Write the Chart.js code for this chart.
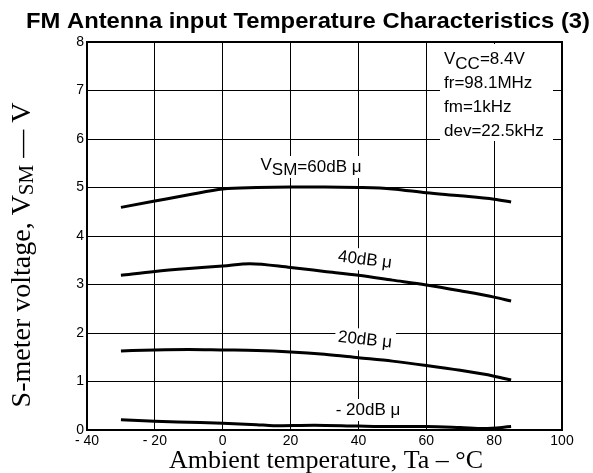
<!DOCTYPE html>
<html lang="en">
<head>
  <meta charset="UTF-8">
  <title>FM Antenna input Temperature Characteristics (3)</title>
  <script src="https://cdn.jsdelivr.net/npm/chart.js"></script>
  <style>
    body { margin: 0; background: #fff; }
    #wrap { width: 593px; height: 473px; }
  </style>
</head>
<body>
  <div id="wrap"><canvas id="chart" width="593" height="473"></canvas></div>
  <script>
    // temperature (°C) and S-meter voltage (V) for each input level
    const t60 = [-30, -20, -10, 0, 10, 20, 30, 40, 50, 60, 70, 80, 85];
    const v60 = [4.59, 4.72, 4.85, 4.97, 5.0, 5.01, 5.01, 5.0, 4.97, 4.89, 4.83, 4.76, 4.70];
    const t40 = [-30, -20, -10, 0, 8, 20, 30, 40, 50, 60, 70, 80, 85];
    const v40 = [3.19, 3.27, 3.33, 3.38, 3.43, 3.35, 3.27, 3.19, 3.09, 2.99, 2.87, 2.74, 2.66];
    const t20 = [-30, -20, -10, 0, 10, 20, 30, 40, 50, 60, 70, 80, 85];
    const v20 = [1.63, 1.65, 1.66, 1.65, 1.64, 1.61, 1.56, 1.49, 1.42, 1.33, 1.23, 1.11, 1.03];
    const tm20 = [-30, -20, -10, 0, 10, 15, 27, 40, 50, 60, 70, 77, 85];
    const vm20 = [0.21, 0.18, 0.16, 0.14, 0.11, 0.09, 0.10, 0.08, 0.07, 0.07, 0.05, 0.03, 0.07];

    const xTicks = [-40, -20, 0, 20, 40, 60, 80, 100];
    const yTicks = [0, 1, 2, 3, 4, 5, 6, 7, 8];

    const SANS = '"Liberation Sans", Arial, sans-serif';
    const SERIF = '"Liberation Serif", "Times New Roman", serif';

    const toPoints = (xs, ys) => xs.map((x, i) => ({ x: x, y: ys[i] }));

    // draw a string made of pieces with their own vertical offsets (for subscripts)
    function pieceWidth(ctx, pieces) {
      return pieces.reduce((w, p) => w + ctx.measureText(p[0]).width, 0);
    }
    function drawPieces(ctx, pieces, x, y) {
      let cx = x;
      pieces.forEach(p => {
        ctx.fillText(p[0], cx, y + p[1]);
        cx += ctx.measureText(p[0]).width;
      });
    }

    function label(ctx, pieces, x, y, angle) {
      ctx.save();
      ctx.font = '17px ' + SANS;
      ctx.textBaseline = 'middle';
      const w = pieceWidth(ctx, pieces);
      ctx.translate(x, y);
      ctx.rotate(angle * Math.PI / 180);
      ctx.fillStyle = '#fff';
      ctx.fillRect(-w / 2 - 3, -11, w + 6, 22);
      ctx.fillStyle = '#000';
      drawPieces(ctx, pieces, -w / 2, 0);
      ctx.restore();
    }

    const textPlugin = {
      id: 'texts',
      afterDatasetsDraw(chart) {
        const ctx = chart.ctx;
        const a = chart.chartArea;

        // conditions box (masks the grid)
        ctx.save();
        ctx.fillStyle = '#fff';
        ctx.fillRect(440, a.top + 2, 113, 97);
        ctx.fillStyle = '#000';
        ctx.font = '17px ' + SANS;
        ctx.textBaseline = 'alphabetic';
        drawPieces(ctx, [['V', 0], ['CC', 5], ['=8.4V', 0]], 444, 64);
        ctx.fillText('fr=98.1MHz', 444, 88);
        ctx.fillText('fm=1kHz', 444, 112);
        ctx.fillText('dev=22.5kHz', 444, 136);
        ctx.restore();

        label(ctx, [['V', -2], ['SM', 3], ['=60dB μ', 0]], 311, 167, 0);
        label(ctx, [['40dB μ', 0]], 365, 260, 7);
        label(ctx, [['20dB μ', 0]], 365, 340, 6);
        label(ctx, [['- 20dB μ', 0]], 368, 410, 0);

        // frame
        ctx.save();
        ctx.strokeStyle = '#000';
        ctx.lineWidth = 2;
        ctx.strokeRect(a.left, a.top, a.right - a.left, a.bottom - a.top);
        ctx.restore();

        // chart title
        ctx.save();
        ctx.font = 'bold 22px ' + SANS;
        ctx.textBaseline = 'alphabetic';
        const title = 'FM Antenna input Temperature Characteristics (3)';
        const tw = ctx.measureText(title).width;
        ctx.translate(26, 28);
        ctx.scale(564 / tw, 1);
        ctx.fillStyle = '#000';
        ctx.fillText(title, 0, 0);
        ctx.restore();

        // x axis title
        ctx.save();
        ctx.fillStyle = '#000';
        ctx.font = '26px ' + SERIF;
        ctx.textAlign = 'center';
        ctx.textBaseline = 'alphabetic';
        ctx.fillText('Ambient temperature, Ta – °C', 326, 468);
        ctx.restore();

        // y axis title with subscript
        ctx.save();
        ctx.fillStyle = '#000';
        ctx.textBaseline = 'alphabetic';
        ctx.translate(30, 255);
        ctx.rotate(-Math.PI / 2);
        const big = '28px ' + SERIF, small = '21px ' + SERIF;
        ctx.font = big;
        const w1 = ctx.measureText('S-meter voltage, V').width;
        const w3 = ctx.measureText(' — V').width;
        ctx.font = small;
        const w2 = ctx.measureText('SM').width;
        const x0 = -(w1 + w2 + w3) / 2;
        ctx.font = big;
        ctx.fillText('S-meter voltage, V', x0, 0);
        ctx.fillText(' — V', x0 + w1 + w2, 0);
        ctx.font = small;
        ctx.fillText('SM', x0 + w1, 3);
        ctx.restore();
      }
    };

    const line = (pts) => ({
      data: pts,
      borderColor: '#000',
      borderWidth: 3,
      pointRadius: 0,
      fill: false,
      cubicInterpolationMode: 'monotone'
    });

    new Chart(document.getElementById('chart'), {
      type: 'line',
      data: {
        datasets: [
          line(toPoints(t60, v60)),
          line(toPoints(t40, v40)),
          line(toPoints(t20, v20)),
          line(toPoints(tm20, vm20))
        ]
      },
      options: {
        responsive: false,
        animation: false,
        devicePixelRatio: 1,
        layout: { padding: { top: 42, right: 31, bottom: 0, left: 0 } },
        plugins: { legend: { display: false }, tooltip: { enabled: false } },
        scales: {
          x: {
            type: 'linear',
            min: -40,
            max: 100,
            afterBuildTicks: s => { s.ticks = xTicks.map(v => ({ value: v })); },
            afterFit: s => { s.height = 43; },
            grid: { color: '#000', lineWidth: 1, drawTicks: false },
            border: { color: '#000', width: 2 },
            ticks: {
              color: '#000',
              padding: 3,
              maxRotation: 0,
              font: { family: SANS, size: 14 },
              callback: v => (v < 0 ? '- ' + Math.abs(v) : String(v))
            }
          },
          y: {
            min: 0,
            max: 8,
            afterBuildTicks: s => { s.ticks = yTicks.map(v => ({ value: v })); },
            afterFit: s => { s.width = 87; },
            grid: { color: '#000', lineWidth: 1, drawTicks: false },
            border: { color: '#000', width: 2 },
            ticks: {
              color: '#000',
              padding: 3,
              font: { family: SANS, size: 14 }
            }
          }
        }
      },
      plugins: [textPlugin]
    });
  </script>
</body>
</html>
